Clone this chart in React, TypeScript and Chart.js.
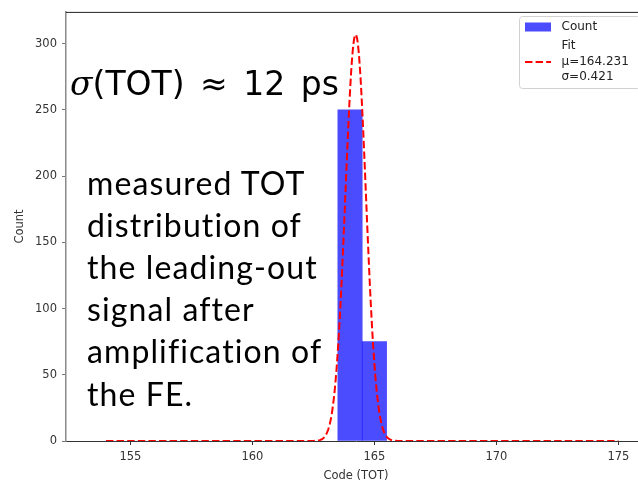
import { useEffect, useRef } from "react";
import { Chart, registerables } from "chart.js";

Chart.register(...registerables);

// Histogram of measured TOT codes: bin centres and counts (bin width 1)
const BIN_CENTERS = [164, 165];
const BIN_COUNTS = [250, 75];

// Gaussian fit parameters
const FIT_MU = 164.231;
const FIT_SIGMA = 0.421;
const FIT_PEAK = 307;
const FIT_START = 154;
const FIT_END = 175;
const FIT_SAMPLES = 600;

// Axes
const X_TICKS = [155, 160, 165, 170, 175];
const Y_TICKS = [0, 50, 100, 150, 200, 250, 300];
const X_LIMITS = [152.36, 176.13];
const Y_LIMITS = [0, 324];

const X_TITLE = "Code (TOT)";
const Y_TITLE = "Count";
const BAR_LABEL = "Count";
const FIT_LABEL = ["Fit", `μ=${FIT_MU.toFixed(3)}`, `σ=${FIT_SIGMA.toFixed(3)}`];

const HEADLINE = "(TOT) ≈ 12 ps";
const NOTE_LINES = [
  "measured TOT",
  "distribution of",
  "the leading-out",
  "signal after",
  "amplification of",
  "the FE.",
];

const AXIS_FONT = { family: "DejaVu Sans", size: 11.5 };

function fitPoints() {
  const pts: { x: number; y: number }[] = [];
  for (let i = 0; i <= FIT_SAMPLES; i++) {
    const x = FIT_START + ((FIT_END - FIT_START) * i) / FIT_SAMPLES;
    const z = (x - FIT_MU) / FIT_SIGMA;
    pts.push({ x, y: FIT_PEAK * Math.exp(-0.5 * z * z) });
  }
  return pts;
}

// Top spine of the axes frame
const topSpine = {
  id: "topSpine",
  afterDraw(chart: any) {
    const { ctx, chartArea } = chart;
    ctx.save();
    ctx.strokeStyle = "#222";
    ctx.lineWidth = 1;
    ctx.beginPath();
    ctx.moveTo(chartArea.left, chartArea.top + 0.5);
    ctx.lineTo(chartArea.right, chartArea.top + 0.5);
    ctx.stroke();
    ctx.restore();
  },
};

// Legend box in the upper right corner with a multi-line fit entry
const legendBox = {
  id: "legendBox",
  afterDraw(chart: any) {
    const { ctx } = chart;
    const barDs = chart.data.datasets[0];
    const lineDs = chart.data.datasets[1];
    const x0 = 519.5;
    const y0 = 16.5;
    const w = 121;
    const h = 72;
    ctx.save();
    ctx.beginPath();
    ctx.roundRect(x0, y0, w, h, 3);
    ctx.fillStyle = "rgba(255,255,255,0.85)";
    ctx.fill();
    ctx.strokeStyle = "#d2d2d2";
    ctx.lineWidth = 1;
    ctx.stroke();

    // bar patch
    ctx.fillStyle = barDs.backgroundColor;
    ctx.fillRect(525, 22.5, 26, 9);

    // dashed fit line
    ctx.strokeStyle = lineDs.borderColor;
    ctx.lineWidth = lineDs.borderWidth;
    ctx.setLineDash(lineDs.borderDash);
    ctx.beginPath();
    ctx.moveTo(525, 62);
    ctx.lineTo(551, 62);
    ctx.stroke();
    ctx.setLineDash([]);

    ctx.fillStyle = "#222";
    ctx.font = '12px "DejaVu Sans"';
    ctx.textAlign = "left";
    ctx.textBaseline = "middle";
    ctx.fillText(BAR_LABEL, 561.5, 27);
    FIT_LABEL.forEach((t, i) => ctx.fillText(t, 561.5, 46 + i * 15.5));
    ctx.restore();
  },
};

export default function App() {
  const ref = useRef<HTMLCanvasElement>(null);

  useEffect(() => {
    const chart = new Chart(ref.current as HTMLCanvasElement, {
      type: "bar",
      data: {
        datasets: [
          {
            type: "bar",
            label: BAR_LABEL,
            data: BIN_CENTERS.map((x, i) => ({ x, y: BIN_COUNTS[i] })),
            backgroundColor: "rgba(0,0,255,0.7)",
            borderWidth: 0,
            barPercentage: 1,
            categoryPercentage: 1,
            order: 2,
          },
          {
            type: "line",
            label: "Fit",
            data: fitPoints(),
            borderColor: "red",
            borderWidth: 2,
            borderDash: [7.4, 3.2],
            pointRadius: 0,
            tension: 0,
            fill: false,
            order: 1,
          },
        ] as any,
      },
      options: {
        responsive: false,
        animation: false,
        devicePixelRatio: 1,
        layout: { padding: { top: 9, left: 0, right: 0, bottom: 0 } },
        plugins: {
          legend: { display: false },
          tooltip: { enabled: false },
        },
        scales: {
          x: {
            type: "linear",
            min: X_LIMITS[0],
            max: X_LIMITS[1],
            offset: false,
            grid: {
              display: true,
              drawOnChartArea: false,
              drawTicks: true,
              tickLength: 4,
              tickColor: "#333",
              offset: false,
            },
            border: { display: true, color: "#333", width: 1 },
            ticks: {
              font: AXIS_FONT,
              color: "#333",
              padding: 5,
              maxRotation: 0,
            },
            afterBuildTicks: (scale: any) => {
              scale.ticks = X_TICKS.map((v) => ({ value: v }));
            },
            afterFit: (scale: any) => {
              scale.height = 42;
            },
            title: {
              display: true,
              text: X_TITLE,
              font: AXIS_FONT,
              color: "#333",
              padding: { top: 0, bottom: 0 },
            },
          },
          y: {
            type: "linear",
            min: Y_LIMITS[0],
            max: Y_LIMITS[1],
            grid: {
              display: true,
              drawOnChartArea: false,
              drawTicks: true,
              tickLength: 4,
              tickColor: "#777",
            },
            border: { display: true, color: "#8a8a8a", width: 1.5 },
            ticks: {
              font: AXIS_FONT,
              color: "#333",
              padding: 5,
            },
            afterBuildTicks: (scale: any) => {
              scale.ticks = Y_TICKS.map((v) => ({ value: v }));
            },
            afterFit: (scale: any) => {
              scale.width = 66;
            },
            title: {
              display: true,
              text: Y_TITLE,
              font: AXIS_FONT,
              color: "#333",
              padding: { top: 13, bottom: 0 },
            },
          },
        },
      },
      plugins: [topSpine, legendBox],
    } as any);
    return () => chart.destroy();
  }, []);

  return (
    <div
      style={{
        position: "fixed",
        left: 0,
        top: 0,
        width: 638,
        height: 483,
        overflow: "hidden",
        background: "#fff",
      }}
    >
      <canvas
        ref={ref}
        width={646}
        height={483}
        style={{ position: "absolute", left: 0, top: 0, width: 646, height: 483 }}
      />
      <div
        style={{
          position: "absolute",
          left: 70,
          top: 67,
          fontFamily: '"DejaVu Sans", sans-serif',
          fontSize: 33,
          lineHeight: "33px",
          whiteSpace: "pre",
          wordSpacing: 5,
          color: "#000",
        }}
      >
        <span style={{ fontFamily: '"DejaVu Serif", serif', fontStyle: "italic" }}>σ</span>
        {HEADLINE}
      </div>
      <div
        style={{
          position: "absolute",
          left: 87,
          top: 161.5,
          fontFamily: "Lato, sans-serif",
          fontSize: 32,
          lineHeight: "42.2px",
          letterSpacing: 1.1,
          whiteSpace: "pre",
          color: "#000",
        }}
      >
        {NOTE_LINES.map((l) => (
          <div key={l}>{l}</div>
        ))}
      </div>
    </div>
  );
}
